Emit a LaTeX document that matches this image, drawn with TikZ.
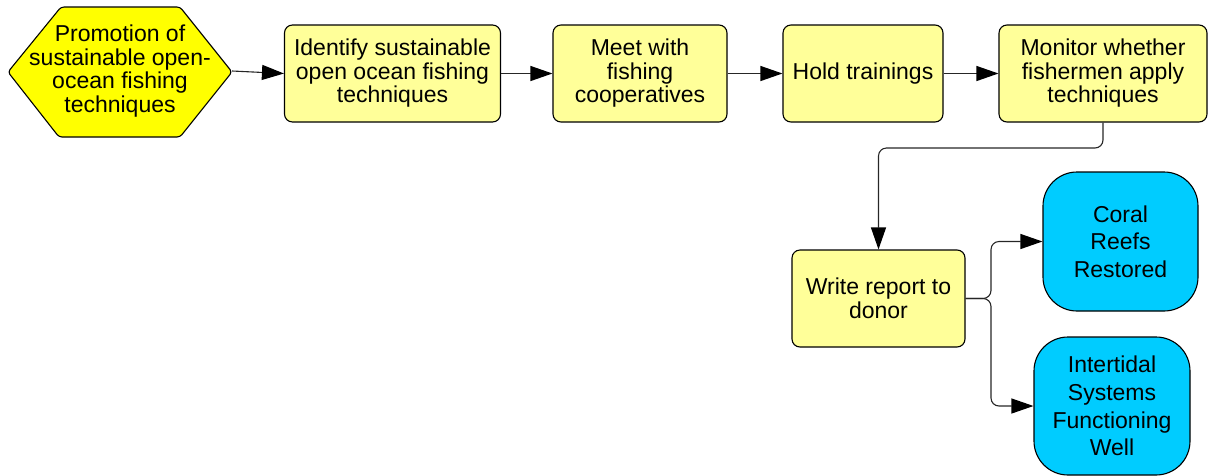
\documentclass[tikz,border=0pt]{standalone}
\usepackage{fontspec}
\setmainfont{Liberation Sans}
\usetikzlibrary{arrows.meta}
\definecolor{stepfill}{HTML}{FFFF99}
\definecolor{goalfill}{HTML}{FFFF00}
\definecolor{outfill}{HTML}{00CCFF}
\begin{document}
\begin{tikzpicture}[x=1pt,y=-1pt,
  every node/.style={font=\fontsize{23}{23.5}\selectfont, align=center, inner sep=0pt},
  stepbox/.style={draw=black, line width=1.1pt, fill=stepfill, rounded corners=8pt},
  outcome/.style={draw=black, line width=1.1pt, fill=outfill, rounded corners=34pt,
    font=\fontsize{23}{27.6}\selectfont},
  link/.style={line width=1.1pt, draw=black!85, rounded corners=8pt,
    -{Triangle[length=22pt,width=15pt,color=black]}}]
\useasboundingbox (0,0) rectangle (1208,475);

% goal hexagon
\draw[line width=1.1pt, fill=goalfill, rounded corners=3pt]
  (8,72) -- (61,7) -- (180,7) -- (232,72) -- (180,137) -- (59,137) -- cycle;
\node (hex) at (120,71) [minimum width=224pt, minimum height=130pt]
  {Promotion of\\sustainable open-\\ocean fishing\\techniques};

% activity chain
\node[stepbox, minimum width=216pt, minimum height=97pt] (idf) at (392.5,73.5)
  {Identify sustainable\\open ocean fishing\\techniques};
\node[stepbox, minimum width=174pt, minimum height=97pt] (meet) at (640,73.5)
  {Meet with\\fishing\\cooperatives};
\node[stepbox, minimum width=160pt, minimum height=97pt] (hold) at (863,73.5)
  {Hold trainings};
\node[stepbox, minimum width=208pt, minimum height=97pt] (mon) at (1103,73.5)
  {Monitor whether\\fishermen apply\\techniques};
\node[stepbox, minimum width=173pt, minimum height=97pt] (rep) at (878.5,298.5)
  {Write report to\\donor};

% outcomes
\node[outcome, minimum width=155pt, minimum height=139pt] (coral) at (1120.5,241.5)
  {Coral\\Reefs\\Restored};
\node[outcome, minimum width=156pt, minimum height=138pt] (tidal) at (1112,406)
  {Intertidal\\Systems\\Functioning\\Well};

% connectors
\draw[link] (hex.east) -- (idf.west);
\draw[link] (idf.east) -- (meet.west);
\draw[link] (meet.east) -- (hold.west);
\draw[link] (hold.east) -- (mon.west);
\coordinate (bend) at (1103,148);
\draw[link] (mon.south) -- (bend) -| (rep.north);
\coordinate (split) at (991,298.5);
\draw[link] (rep.east) -- (split) |- (coral.west);
\draw[link] (rep.east) -- (split) |- (tidal.west);
\end{tikzpicture}
\end{document}
